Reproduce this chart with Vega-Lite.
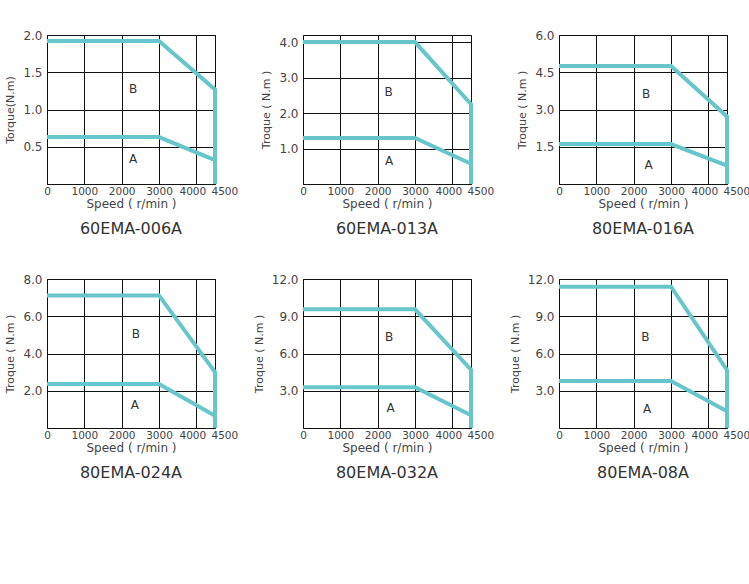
{
  "$schema": "https://vega.github.io/schema/vega-lite/v6.json",
  "background": "white",
  "padding": {"top": 28, "left": 4, "right": 0, "bottom": 5},
  "datasets": {
    "curves": [
      {"chart": "60EMA-006A", "curve": "B", "i": 0, "speed": 0, "torque": 1.92},
      {"chart": "60EMA-006A", "curve": "B", "i": 1, "speed": 3000, "torque": 1.92},
      {"chart": "60EMA-006A", "curve": "B", "i": 2, "speed": 4500, "torque": 1.27},
      {"chart": "60EMA-006A", "curve": "B", "i": 3, "speed": 4500, "torque": 0},
      {"chart": "60EMA-006A", "curve": "A", "i": 0, "speed": 0, "torque": 0.63},
      {"chart": "60EMA-006A", "curve": "A", "i": 1, "speed": 3000, "torque": 0.63},
      {"chart": "60EMA-006A", "curve": "A", "i": 2, "speed": 4500, "torque": 0.32},
      {"chart": "60EMA-013A", "curve": "B", "i": 0, "speed": 0, "torque": 4.0},
      {"chart": "60EMA-013A", "curve": "B", "i": 1, "speed": 3000, "torque": 4.0},
      {"chart": "60EMA-013A", "curve": "B", "i": 2, "speed": 4500, "torque": 2.25},
      {"chart": "60EMA-013A", "curve": "B", "i": 3, "speed": 4500, "torque": 0},
      {"chart": "60EMA-013A", "curve": "A", "i": 0, "speed": 0, "torque": 1.3},
      {"chart": "60EMA-013A", "curve": "A", "i": 1, "speed": 3000, "torque": 1.3},
      {"chart": "60EMA-013A", "curve": "A", "i": 2, "speed": 4500, "torque": 0.57},
      {"chart": "80EMA-016A", "curve": "B", "i": 0, "speed": 0, "torque": 4.75},
      {"chart": "80EMA-016A", "curve": "B", "i": 1, "speed": 3000, "torque": 4.75},
      {"chart": "80EMA-016A", "curve": "B", "i": 2, "speed": 4500, "torque": 2.72},
      {"chart": "80EMA-016A", "curve": "B", "i": 3, "speed": 4500, "torque": 0},
      {"chart": "80EMA-016A", "curve": "A", "i": 0, "speed": 0, "torque": 1.61},
      {"chart": "80EMA-016A", "curve": "A", "i": 1, "speed": 3000, "torque": 1.61},
      {"chart": "80EMA-016A", "curve": "A", "i": 2, "speed": 4500, "torque": 0.74},
      {"chart": "80EMA-024A", "curve": "B", "i": 0, "speed": 0, "torque": 7.12},
      {"chart": "80EMA-024A", "curve": "B", "i": 1, "speed": 3000, "torque": 7.12},
      {"chart": "80EMA-024A", "curve": "B", "i": 2, "speed": 4500, "torque": 3.0},
      {"chart": "80EMA-024A", "curve": "B", "i": 3, "speed": 4500, "torque": 0},
      {"chart": "80EMA-024A", "curve": "A", "i": 0, "speed": 0, "torque": 2.36},
      {"chart": "80EMA-024A", "curve": "A", "i": 1, "speed": 3000, "torque": 2.36},
      {"chart": "80EMA-024A", "curve": "A", "i": 2, "speed": 4500, "torque": 0.66},
      {"chart": "80EMA-032A", "curve": "B", "i": 0, "speed": 0, "torque": 9.56},
      {"chart": "80EMA-032A", "curve": "B", "i": 1, "speed": 3000, "torque": 9.56},
      {"chart": "80EMA-032A", "curve": "B", "i": 2, "speed": 4500, "torque": 4.69},
      {"chart": "80EMA-032A", "curve": "B", "i": 3, "speed": 4500, "torque": 0},
      {"chart": "80EMA-032A", "curve": "A", "i": 0, "speed": 0, "torque": 3.29},
      {"chart": "80EMA-032A", "curve": "A", "i": 1, "speed": 3000, "torque": 3.29},
      {"chart": "80EMA-032A", "curve": "A", "i": 2, "speed": 4500, "torque": 1.02},
      {"chart": "80EMA-08A", "curve": "B", "i": 0, "speed": 0, "torque": 11.38},
      {"chart": "80EMA-08A", "curve": "B", "i": 1, "speed": 3000, "torque": 11.38},
      {"chart": "80EMA-08A", "curve": "B", "i": 2, "speed": 4500, "torque": 4.67},
      {"chart": "80EMA-08A", "curve": "B", "i": 3, "speed": 4500, "torque": 0},
      {"chart": "80EMA-08A", "curve": "A", "i": 0, "speed": 0, "torque": 3.78},
      {"chart": "80EMA-08A", "curve": "A", "i": 1, "speed": 3000, "torque": 3.78},
      {"chart": "80EMA-08A", "curve": "A", "i": 2, "speed": 4500, "torque": 1.35}
    ],
    "labels": [
      {"chart": "60EMA-006A", "label": "B", "speed": 2308, "torque": 1.27},
      {"chart": "60EMA-006A", "label": "A", "speed": 2308, "torque": 0.34},
      {"chart": "60EMA-013A", "label": "B", "speed": 2290, "torque": 2.6},
      {"chart": "60EMA-013A", "label": "A", "speed": 2308, "torque": 0.66},
      {"chart": "80EMA-016A", "label": "B", "speed": 2331, "torque": 3.62},
      {"chart": "80EMA-016A", "label": "A", "speed": 2402, "torque": 0.78},
      {"chart": "80EMA-024A", "label": "B", "speed": 2380, "torque": 5.04},
      {"chart": "80EMA-024A", "label": "A", "speed": 2353, "torque": 1.25},
      {"chart": "80EMA-032A", "label": "B", "speed": 2304, "torque": 7.31},
      {"chart": "80EMA-032A", "label": "A", "speed": 2349, "torque": 1.61},
      {"chart": "80EMA-08A", "label": "B", "speed": 2313, "torque": 7.33},
      {"chart": "80EMA-08A", "label": "A", "speed": 2358, "torque": 1.54}
    ]
  },
  "columns": 3,
  "spacing": {"row": 95, "column": 88},
  "bounds": "flush",
  "concat": [
    {
      "width": 168, "height": 149,
      "title": "60EMA-006A",
      "encoding": {
        "x": {"field": "speed", "type": "quantitative", "scale": {"domain": [0, 4500], "nice": false}, "axis": {"values": [0, 1000, 2000, 3000, 4000, 4500], "format": "d", "title": "Speed ( r/min )"}},
        "y": {"field": "torque", "type": "quantitative", "scale": {"domain": [0, 2.0], "nice": false}, "axis": {"values": [0.5, 1.0, 1.5, 2.0], "format": ".1f", "title": "Torque(N.m)"}}
      },
      "layer": [
        {
          "data": {"name": "curves"},
          "transform": [{"filter": "datum.chart == '60EMA-006A'"}],
          "mark": {"type": "line", "color": "#66c6cc", "strokeWidth": 4, "strokeJoin": "miter"},
          "encoding": {"detail": {"field": "curve"}, "order": {"field": "i"}}
        },
        {
          "data": {"name": "labels"},
          "transform": [{"filter": "datum.chart == '60EMA-006A'"}],
          "mark": {"type": "text", "font": "DejaVu Sans", "fontSize": 12, "color": "#333"},
          "encoding": {"text": {"field": "label"}}
        }
      ]
    },
    {
      "width": 168, "height": 149,
      "title": "60EMA-013A",
      "encoding": {
        "x": {"field": "speed", "type": "quantitative", "scale": {"domain": [0, 4500], "nice": false}, "axis": {"values": [0, 1000, 2000, 3000, 4000, 4500], "format": "d", "title": "Speed ( r/min )"}},
        "y": {"field": "torque", "type": "quantitative", "scale": {"domain": [0, 4.2], "nice": false}, "axis": {"values": [1.0, 2.0, 3.0, 4.0], "format": ".1f", "title": "Troque ( N.m )"}}
      },
      "layer": [
        {
          "data": {"name": "curves"},
          "transform": [{"filter": "datum.chart == '60EMA-013A'"}],
          "mark": {"type": "line", "color": "#66c6cc", "strokeWidth": 4, "strokeJoin": "miter"},
          "encoding": {"detail": {"field": "curve"}, "order": {"field": "i"}}
        },
        {
          "data": {"name": "labels"},
          "transform": [{"filter": "datum.chart == '60EMA-013A'"}],
          "mark": {"type": "text", "font": "DejaVu Sans", "fontSize": 12, "color": "#333"},
          "encoding": {"text": {"field": "label"}}
        }
      ]
    },
    {
      "width": 168, "height": 149,
      "title": "80EMA-016A",
      "encoding": {
        "x": {"field": "speed", "type": "quantitative", "scale": {"domain": [0, 4500], "nice": false}, "axis": {"values": [0, 1000, 2000, 3000, 4000, 4500], "format": "d", "title": "Speed ( r/min )"}},
        "y": {"field": "torque", "type": "quantitative", "scale": {"domain": [0, 6.0], "nice": false}, "axis": {"values": [1.5, 3.0, 4.5, 6.0], "format": ".1f", "title": "Troque ( N.m )"}}
      },
      "layer": [
        {
          "data": {"name": "curves"},
          "transform": [{"filter": "datum.chart == '80EMA-016A'"}],
          "mark": {"type": "line", "color": "#66c6cc", "strokeWidth": 4, "strokeJoin": "miter"},
          "encoding": {"detail": {"field": "curve"}, "order": {"field": "i"}}
        },
        {
          "data": {"name": "labels"},
          "transform": [{"filter": "datum.chart == '80EMA-016A'"}],
          "mark": {"type": "text", "font": "DejaVu Sans", "fontSize": 12, "color": "#333"},
          "encoding": {"text": {"field": "label"}}
        }
      ]
    },
    {
      "width": 168, "height": 149,
      "title": "80EMA-024A",
      "encoding": {
        "x": {"field": "speed", "type": "quantitative", "scale": {"domain": [0, 4500], "nice": false}, "axis": {"values": [0, 1000, 2000, 3000, 4000, 4500], "format": "d", "title": "Speed ( r/min )"}},
        "y": {"field": "torque", "type": "quantitative", "scale": {"domain": [0, 8.0], "nice": false}, "axis": {"values": [2.0, 4.0, 6.0, 8.0], "format": ".1f", "title": "Troque ( N.m )"}}
      },
      "layer": [
        {
          "data": {"name": "curves"},
          "transform": [{"filter": "datum.chart == '80EMA-024A'"}],
          "mark": {"type": "line", "color": "#66c6cc", "strokeWidth": 4, "strokeJoin": "miter"},
          "encoding": {"detail": {"field": "curve"}, "order": {"field": "i"}}
        },
        {
          "data": {"name": "labels"},
          "transform": [{"filter": "datum.chart == '80EMA-024A'"}],
          "mark": {"type": "text", "font": "DejaVu Sans", "fontSize": 12, "color": "#333"},
          "encoding": {"text": {"field": "label"}}
        }
      ]
    },
    {
      "width": 168, "height": 149,
      "title": "80EMA-032A",
      "encoding": {
        "x": {"field": "speed", "type": "quantitative", "scale": {"domain": [0, 4500], "nice": false}, "axis": {"values": [0, 1000, 2000, 3000, 4000, 4500], "format": "d", "title": "Speed ( r/min )"}},
        "y": {"field": "torque", "type": "quantitative", "scale": {"domain": [0, 12.0], "nice": false}, "axis": {"values": [3.0, 6.0, 9.0, 12.0], "format": ".1f", "title": "Troque ( N.m )"}}
      },
      "layer": [
        {
          "data": {"name": "curves"},
          "transform": [{"filter": "datum.chart == '80EMA-032A'"}],
          "mark": {"type": "line", "color": "#66c6cc", "strokeWidth": 4, "strokeJoin": "miter"},
          "encoding": {"detail": {"field": "curve"}, "order": {"field": "i"}}
        },
        {
          "data": {"name": "labels"},
          "transform": [{"filter": "datum.chart == '80EMA-032A'"}],
          "mark": {"type": "text", "font": "DejaVu Sans", "fontSize": 12, "color": "#333"},
          "encoding": {"text": {"field": "label"}}
        }
      ]
    },
    {
      "width": 168, "height": 149,
      "title": "80EMA-08A",
      "encoding": {
        "x": {"field": "speed", "type": "quantitative", "scale": {"domain": [0, 4500], "nice": false}, "axis": {"values": [0, 1000, 2000, 3000, 4000, 4500], "format": "d", "title": "Speed ( r/min )"}},
        "y": {"field": "torque", "type": "quantitative", "scale": {"domain": [0, 12.0], "nice": false}, "axis": {"values": [3.0, 6.0, 9.0, 12.0], "format": ".1f", "title": "Troque ( N.m )"}}
      },
      "layer": [
        {
          "data": {"name": "curves"},
          "transform": [{"filter": "datum.chart == '80EMA-08A'"}],
          "mark": {"type": "line", "color": "#66c6cc", "strokeWidth": 4, "strokeJoin": "miter"},
          "encoding": {"detail": {"field": "curve"}, "order": {"field": "i"}}
        },
        {
          "data": {"name": "labels"},
          "transform": [{"filter": "datum.chart == '80EMA-08A'"}],
          "mark": {"type": "text", "font": "DejaVu Sans", "fontSize": 12, "color": "#333"},
          "encoding": {"text": {"field": "label"}}
        }
      ]
    }
  ],
  "config": {
    "view": {"stroke": "#111", "strokeWidth": 1},
    "axis": {
      "domain": false, "ticks": false,
      "gridColor": "#111", "gridOpacity": 1, "gridWidth": 1,
      "labelFont": "DejaVu Sans", "labelColor": "#444", "labelFontSize": 11, "labelOverlap": false, "labelFlush": false,
      "titleFont": "DejaVu Sans", "titleFontWeight": "normal", "titleColor": "#444", "titleFontSize": 12
    },
    "axisX": {
      "labelPadding": 2, "titlePadding": 2, "labelAngle": 0, "labelFontSize": 10.5,
      "labelAlign": {"condition": {"test": "datum.value == 4500", "value": "left"}, "value": "center"},
      "labelOffset": {"condition": {"test": "datum.value >= 4000", "value": -4}, "value": 0}
    },
    "axisY": {"labelFontSize": 12, "labelPadding": 5, "titlePadding": 7, "titleFontSize": 11},
    "title": {"orient": "bottom", "font": "DejaVu Sans", "fontSize": 16, "fontWeight": "normal", "color": "#333", "offset": 11, "anchor": "middle"}
  }
}
